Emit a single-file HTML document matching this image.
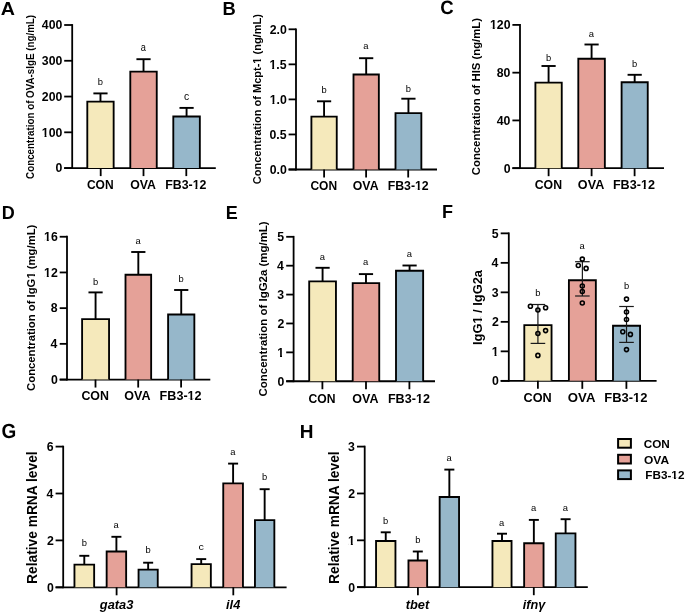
<!DOCTYPE html>
<html><head><meta charset="utf-8"><style>
html,body{margin:0;padding:0;background:#fff;}
svg{display:block;filter:blur(0.3px);}
text{font-family:"Liberation Sans", sans-serif;fill:#000;}
</style></head><body>
<svg width="685" height="613" viewBox="0 0 685 613">
<rect width="685" height="613" fill="#fff"/>
<text x="0.75" y="15.40" font-size="18" font-weight="bold" textLength="14.19" lengthAdjust="spacingAndGlyphs">A</text>
<line x1="72.20" y1="24.10" x2="72.20" y2="169.00" stroke="#000" stroke-width="1.8" stroke-linecap="butt"/>
<line x1="64.20" y1="168.10" x2="215.80" y2="168.10" stroke="#000" stroke-width="1.8" stroke-linecap="butt"/>
<line x1="64.20" y1="168.10" x2="72.20" y2="168.10" stroke="#000" stroke-width="1.8" stroke-linecap="butt"/>
<text x="55.55" y="172.40" font-size="12.3" font-weight="bold" textLength="6.84" lengthAdjust="spacingAndGlyphs">0</text>
<line x1="64.20" y1="132.32" x2="72.20" y2="132.32" stroke="#000" stroke-width="1.8" stroke-linecap="butt"/>
<text x="41.80" y="136.62" font-size="12.3" font-weight="bold" textLength="20.52" lengthAdjust="spacingAndGlyphs">100</text>
<rect x="42.07" y="134.91" width="2.45" height="2.41" fill="#fff"/>
<rect x="46.51" y="134.91" width="2.29" height="2.41" fill="#fff"/>
<line x1="64.20" y1="96.55" x2="72.20" y2="96.55" stroke="#000" stroke-width="1.8" stroke-linecap="butt"/>
<text x="41.80" y="100.85" font-size="12.3" font-weight="bold" textLength="20.52" lengthAdjust="spacingAndGlyphs">200</text>
<line x1="64.20" y1="60.77" x2="72.20" y2="60.77" stroke="#000" stroke-width="1.8" stroke-linecap="butt"/>
<text x="41.80" y="65.07" font-size="12.3" font-weight="bold" textLength="20.52" lengthAdjust="spacingAndGlyphs">300</text>
<line x1="64.20" y1="25.00" x2="72.20" y2="25.00" stroke="#000" stroke-width="1.8" stroke-linecap="butt"/>
<text x="41.80" y="29.30" font-size="12.3" font-weight="bold" textLength="20.52" lengthAdjust="spacingAndGlyphs">400</text>
<text transform="translate(33.70,178.88) rotate(-90)" font-size="10.2" font-weight="bold" textLength="163.98" lengthAdjust="spacingAndGlyphs">Concentration of OVA-sIgE (ng/mL)</text>
<path d="M87.30,168.10V101.65H113.65V168.10" fill="#F5E9BB" stroke="#000" stroke-width="1.85"/>
<line x1="100.47" y1="93.40" x2="100.47" y2="101.65" stroke="#000" stroke-width="1.9" stroke-linecap="butt"/>
<line x1="93.38" y1="93.40" x2="107.57" y2="93.40" stroke="#000" stroke-width="1.9" stroke-linecap="butt"/>
<text x="97.85" y="85.00" font-size="9.4" font-weight="normal" textLength="5.23" lengthAdjust="spacingAndGlyphs">b</text>
<path d="M130.30,168.10V71.65H156.75V168.10" fill="#E5A198" stroke="#000" stroke-width="1.85"/>
<line x1="143.52" y1="59.20" x2="143.52" y2="71.65" stroke="#000" stroke-width="1.9" stroke-linecap="butt"/>
<line x1="136.42" y1="59.20" x2="150.62" y2="59.20" stroke="#000" stroke-width="1.9" stroke-linecap="butt"/>
<text x="140.69" y="50.90" font-size="10.6" font-weight="normal" textLength="5.14" lengthAdjust="spacingAndGlyphs">a</text>
<path d="M173.30,168.10V116.45H199.85V168.10" fill="#96B7CA" stroke="#000" stroke-width="1.85"/>
<line x1="186.57" y1="107.90" x2="186.57" y2="116.45" stroke="#000" stroke-width="1.9" stroke-linecap="butt"/>
<line x1="179.47" y1="107.90" x2="193.67" y2="107.90" stroke="#000" stroke-width="1.9" stroke-linecap="butt"/>
<text x="183.89" y="100.20" font-size="10.6" font-weight="normal" textLength="5.18" lengthAdjust="spacingAndGlyphs">c</text>
<line x1="100.70" y1="168.10" x2="100.70" y2="176.10" stroke="#000" stroke-width="1.8" stroke-linecap="butt"/>
<text x="86.91" y="188.60" font-size="12.3" font-weight="bold" textLength="26.70" lengthAdjust="spacingAndGlyphs">CON</text>
<line x1="143.50" y1="168.10" x2="143.50" y2="176.10" stroke="#000" stroke-width="1.8" stroke-linecap="butt"/>
<text x="130.15" y="188.60" font-size="12.3" font-weight="bold" textLength="25.73" lengthAdjust="spacingAndGlyphs">OVA</text>
<line x1="186.30" y1="168.10" x2="186.30" y2="176.10" stroke="#000" stroke-width="1.8" stroke-linecap="butt"/>
<text x="165.15" y="188.60" font-size="12.3" font-weight="bold" textLength="41.26" lengthAdjust="spacingAndGlyphs">FB3-12</text>
<rect x="192.91" y="186.89" width="2.46" height="2.41" fill="#fff"/>
<rect x="197.37" y="186.89" width="2.31" height="2.41" fill="#fff"/>
<text x="222.63" y="15.40" font-size="18" font-weight="bold" textLength="13.24" lengthAdjust="spacingAndGlyphs">B</text>
<line x1="296.00" y1="28.40" x2="296.00" y2="170.40" stroke="#000" stroke-width="1.8" stroke-linecap="butt"/>
<line x1="288.60" y1="169.50" x2="437.00" y2="169.50" stroke="#000" stroke-width="1.8" stroke-linecap="butt"/>
<line x1="288.60" y1="169.50" x2="296.00" y2="169.50" stroke="#000" stroke-width="1.8" stroke-linecap="butt"/>
<text x="269.70" y="173.80" font-size="12.3" font-weight="bold" textLength="17.10" lengthAdjust="spacingAndGlyphs">0.0</text>
<line x1="288.60" y1="134.45" x2="296.00" y2="134.45" stroke="#000" stroke-width="1.8" stroke-linecap="butt"/>
<text x="269.45" y="138.75" font-size="12.3" font-weight="bold" textLength="17.10" lengthAdjust="spacingAndGlyphs">0.5</text>
<line x1="288.60" y1="99.40" x2="296.00" y2="99.40" stroke="#000" stroke-width="1.8" stroke-linecap="butt"/>
<text x="269.70" y="103.70" font-size="12.3" font-weight="bold" textLength="17.10" lengthAdjust="spacingAndGlyphs">1.0</text>
<rect x="269.97" y="101.99" width="2.45" height="2.41" fill="#fff"/>
<rect x="274.41" y="101.99" width="2.29" height="2.41" fill="#fff"/>
<line x1="288.60" y1="64.35" x2="296.00" y2="64.35" stroke="#000" stroke-width="1.8" stroke-linecap="butt"/>
<text x="269.45" y="68.65" font-size="12.3" font-weight="bold" textLength="17.10" lengthAdjust="spacingAndGlyphs">1.5</text>
<rect x="269.72" y="66.94" width="2.45" height="2.41" fill="#fff"/>
<rect x="274.16" y="66.94" width="2.29" height="2.41" fill="#fff"/>
<line x1="288.60" y1="29.30" x2="296.00" y2="29.30" stroke="#000" stroke-width="1.8" stroke-linecap="butt"/>
<text x="269.70" y="33.60" font-size="12.3" font-weight="bold" textLength="17.10" lengthAdjust="spacingAndGlyphs">2.0</text>
<text transform="translate(260.60,184.15) rotate(-90)" font-size="10" font-weight="bold" textLength="170.02" lengthAdjust="spacingAndGlyphs">Concentration of Mcpt-1 (ng/mL)</text>
<g transform="translate(260.60,184.15) rotate(-90)"><rect x="120.66" y="-1.47" width="2.23" height="2.17" fill="#fff"/><rect x="124.70" y="-1.47" width="2.09" height="2.17" fill="#fff"/></g>
<path d="M311.40,169.50V116.55H336.75V169.50" fill="#F5E9BB" stroke="#000" stroke-width="1.85"/>
<line x1="324.08" y1="101.30" x2="324.08" y2="116.55" stroke="#000" stroke-width="1.9" stroke-linecap="butt"/>
<line x1="316.98" y1="101.30" x2="331.18" y2="101.30" stroke="#000" stroke-width="1.9" stroke-linecap="butt"/>
<text x="321.45" y="92.80" font-size="9.4" font-weight="normal" textLength="5.23" lengthAdjust="spacingAndGlyphs">b</text>
<path d="M353.50,169.50V74.45H378.85V169.50" fill="#E5A198" stroke="#000" stroke-width="1.85"/>
<line x1="366.18" y1="58.20" x2="366.18" y2="74.45" stroke="#000" stroke-width="1.9" stroke-linecap="butt"/>
<line x1="359.07" y1="58.20" x2="373.28" y2="58.20" stroke="#000" stroke-width="1.9" stroke-linecap="butt"/>
<text x="363.30" y="49.20" font-size="9.8" font-weight="normal" textLength="5.23" lengthAdjust="spacingAndGlyphs">a</text>
<path d="M395.50,169.50V113.05H421.35V169.50" fill="#96B7CA" stroke="#000" stroke-width="1.85"/>
<line x1="408.43" y1="98.70" x2="408.43" y2="113.05" stroke="#000" stroke-width="1.9" stroke-linecap="butt"/>
<line x1="401.32" y1="98.70" x2="415.53" y2="98.70" stroke="#000" stroke-width="1.9" stroke-linecap="butt"/>
<text x="405.80" y="91.70" font-size="9.4" font-weight="normal" textLength="5.23" lengthAdjust="spacingAndGlyphs">b</text>
<line x1="324.10" y1="169.50" x2="324.10" y2="177.50" stroke="#000" stroke-width="1.8" stroke-linecap="butt"/>
<text x="310.41" y="190.10" font-size="12.3" font-weight="bold" textLength="26.70" lengthAdjust="spacingAndGlyphs">CON</text>
<line x1="366.10" y1="169.50" x2="366.10" y2="177.50" stroke="#000" stroke-width="1.8" stroke-linecap="butt"/>
<text x="352.80" y="190.10" font-size="12.3" font-weight="bold" textLength="25.73" lengthAdjust="spacingAndGlyphs">OVA</text>
<line x1="408.20" y1="169.50" x2="408.20" y2="177.50" stroke="#000" stroke-width="1.8" stroke-linecap="butt"/>
<text x="387.65" y="190.10" font-size="12.3" font-weight="bold" textLength="41.06" lengthAdjust="spacingAndGlyphs">FB3-12</text>
<rect x="415.27" y="188.39" width="2.45" height="2.41" fill="#fff"/>
<rect x="419.72" y="188.39" width="2.30" height="2.41" fill="#fff"/>
<text style="text-rendering:geometricPrecision" x="440.27" y="14.40" font-size="19.2" font-weight="bold" textLength="13.42" lengthAdjust="spacingAndGlyphs">C</text>
<line x1="520.00" y1="24.00" x2="520.00" y2="169.10" stroke="#000" stroke-width="1.8" stroke-linecap="butt"/>
<line x1="512.40" y1="168.20" x2="664.00" y2="168.20" stroke="#000" stroke-width="1.8" stroke-linecap="butt"/>
<line x1="512.40" y1="168.20" x2="520.00" y2="168.20" stroke="#000" stroke-width="1.8" stroke-linecap="butt"/>
<text x="503.75" y="172.50" font-size="12.3" font-weight="bold" textLength="6.84" lengthAdjust="spacingAndGlyphs">0</text>
<line x1="512.40" y1="120.43" x2="520.00" y2="120.43" stroke="#000" stroke-width="1.8" stroke-linecap="butt"/>
<text x="496.75" y="124.73" font-size="12.3" font-weight="bold" textLength="13.68" lengthAdjust="spacingAndGlyphs">40</text>
<line x1="512.40" y1="72.67" x2="520.00" y2="72.67" stroke="#000" stroke-width="1.8" stroke-linecap="butt"/>
<text x="496.75" y="76.97" font-size="12.3" font-weight="bold" textLength="13.68" lengthAdjust="spacingAndGlyphs">80</text>
<line x1="512.40" y1="24.90" x2="520.00" y2="24.90" stroke="#000" stroke-width="1.8" stroke-linecap="butt"/>
<text x="490.00" y="29.20" font-size="12.3" font-weight="bold" textLength="20.52" lengthAdjust="spacingAndGlyphs">120</text>
<rect x="490.27" y="27.49" width="2.45" height="2.41" fill="#fff"/>
<rect x="494.71" y="27.49" width="2.29" height="2.41" fill="#fff"/>
<text transform="translate(480.40,175.17) rotate(-90)" font-size="10.0" font-weight="bold" textLength="157.19" lengthAdjust="spacingAndGlyphs">Concentration of HIS (ng/mL)</text>
<path d="M535.40,168.20V82.65H561.75V168.20" fill="#F5E9BB" stroke="#000" stroke-width="1.85"/>
<line x1="548.58" y1="66.00" x2="548.58" y2="82.65" stroke="#000" stroke-width="1.9" stroke-linecap="butt"/>
<line x1="541.48" y1="66.00" x2="555.68" y2="66.00" stroke="#000" stroke-width="1.9" stroke-linecap="butt"/>
<text x="545.95" y="60.90" font-size="9.4" font-weight="normal" textLength="5.23" lengthAdjust="spacingAndGlyphs">b</text>
<path d="M578.30,168.20V58.75H604.85V168.20" fill="#E5A198" stroke="#000" stroke-width="1.85"/>
<line x1="591.58" y1="44.50" x2="591.58" y2="58.75" stroke="#000" stroke-width="1.9" stroke-linecap="butt"/>
<line x1="584.48" y1="44.50" x2="598.68" y2="44.50" stroke="#000" stroke-width="1.9" stroke-linecap="butt"/>
<text x="588.70" y="37.00" font-size="9.8" font-weight="normal" textLength="5.23" lengthAdjust="spacingAndGlyphs">a</text>
<path d="M621.60,168.20V82.25H647.75V168.20" fill="#96B7CA" stroke="#000" stroke-width="1.85"/>
<line x1="634.67" y1="74.80" x2="634.67" y2="82.25" stroke="#000" stroke-width="1.9" stroke-linecap="butt"/>
<line x1="627.57" y1="74.80" x2="641.77" y2="74.80" stroke="#000" stroke-width="1.9" stroke-linecap="butt"/>
<text x="632.05" y="66.80" font-size="9.4" font-weight="normal" textLength="5.23" lengthAdjust="spacingAndGlyphs">b</text>
<line x1="548.60" y1="168.20" x2="548.60" y2="176.20" stroke="#000" stroke-width="1.8" stroke-linecap="butt"/>
<text x="534.70" y="188.70" font-size="12.3" font-weight="bold" textLength="27.33" lengthAdjust="spacingAndGlyphs">CON</text>
<line x1="591.60" y1="168.20" x2="591.60" y2="176.20" stroke="#000" stroke-width="1.8" stroke-linecap="butt"/>
<text x="577.89" y="188.70" font-size="12.3" font-weight="bold" textLength="26.35" lengthAdjust="spacingAndGlyphs">OVA</text>
<line x1="634.60" y1="168.20" x2="634.60" y2="176.20" stroke="#000" stroke-width="1.8" stroke-linecap="butt"/>
<text x="612.93" y="188.70" font-size="12.3" font-weight="bold" textLength="41.98" lengthAdjust="spacingAndGlyphs">FB3-12</text>
<rect x="641.18" y="186.99" width="2.50" height="2.41" fill="#fff"/>
<rect x="645.71" y="186.99" width="2.34" height="2.41" fill="#fff"/>
<text x="1.75" y="219.10" font-size="18" font-weight="bold" textLength="13.00" lengthAdjust="spacingAndGlyphs">D</text>
<line x1="67.00" y1="235.85" x2="67.00" y2="380.45" stroke="#000" stroke-width="1.8" stroke-linecap="butt"/>
<line x1="59.70" y1="379.55" x2="210.30" y2="379.55" stroke="#000" stroke-width="1.8" stroke-linecap="butt"/>
<line x1="59.70" y1="379.55" x2="67.00" y2="379.55" stroke="#000" stroke-width="1.8" stroke-linecap="butt"/>
<text x="51.05" y="383.85" font-size="12.3" font-weight="bold" textLength="6.84" lengthAdjust="spacingAndGlyphs">0</text>
<line x1="59.70" y1="343.85" x2="67.00" y2="343.85" stroke="#000" stroke-width="1.8" stroke-linecap="butt"/>
<text x="50.55" y="348.15" font-size="12.3" font-weight="bold" textLength="6.84" lengthAdjust="spacingAndGlyphs">4</text>
<line x1="59.70" y1="308.15" x2="67.00" y2="308.15" stroke="#000" stroke-width="1.8" stroke-linecap="butt"/>
<text x="50.80" y="312.45" font-size="12.3" font-weight="bold" textLength="6.84" lengthAdjust="spacingAndGlyphs">8</text>
<line x1="59.70" y1="272.45" x2="67.00" y2="272.45" stroke="#000" stroke-width="1.8" stroke-linecap="butt"/>
<text x="44.05" y="276.75" font-size="12.3" font-weight="bold" textLength="13.68" lengthAdjust="spacingAndGlyphs">12</text>
<rect x="44.32" y="275.04" width="2.45" height="2.41" fill="#fff"/>
<rect x="48.76" y="275.04" width="2.29" height="2.41" fill="#fff"/>
<line x1="59.70" y1="236.75" x2="67.00" y2="236.75" stroke="#000" stroke-width="1.8" stroke-linecap="butt"/>
<text x="44.05" y="241.05" font-size="12.3" font-weight="bold" textLength="13.68" lengthAdjust="spacingAndGlyphs">16</text>
<rect x="44.32" y="239.34" width="2.45" height="2.41" fill="#fff"/>
<rect x="48.76" y="239.34" width="2.29" height="2.41" fill="#fff"/>
<text transform="translate(34.90,390.93) rotate(-90)" font-size="10.6" font-weight="bold" textLength="166.28" lengthAdjust="spacingAndGlyphs">Concentration of IgG1 (mg/mL)</text>
<g transform="translate(34.90,390.93) rotate(-90)"><rect x="112.50" y="-1.53" width="2.28" height="2.23" fill="#fff"/><rect x="116.64" y="-1.53" width="2.14" height="2.23" fill="#fff"/></g>
<path d="M82.10,379.55V319.15H109.05V379.55" fill="#F5E9BB" stroke="#000" stroke-width="1.85"/>
<line x1="95.57" y1="292.40" x2="95.57" y2="319.15" stroke="#000" stroke-width="1.9" stroke-linecap="butt"/>
<line x1="88.47" y1="292.40" x2="102.67" y2="292.40" stroke="#000" stroke-width="1.9" stroke-linecap="butt"/>
<text x="92.95" y="284.80" font-size="9.4" font-weight="normal" textLength="5.23" lengthAdjust="spacingAndGlyphs">b</text>
<path d="M125.50,379.55V274.75H151.15V379.55" fill="#E5A198" stroke="#000" stroke-width="1.85"/>
<line x1="138.32" y1="252.00" x2="138.32" y2="274.75" stroke="#000" stroke-width="1.9" stroke-linecap="butt"/>
<line x1="131.22" y1="252.00" x2="145.42" y2="252.00" stroke="#000" stroke-width="1.9" stroke-linecap="butt"/>
<text x="135.44" y="243.80" font-size="9.8" font-weight="normal" textLength="5.23" lengthAdjust="spacingAndGlyphs">a</text>
<path d="M168.10,379.55V314.45H194.35V379.55" fill="#96B7CA" stroke="#000" stroke-width="1.85"/>
<line x1="181.23" y1="290.00" x2="181.23" y2="314.45" stroke="#000" stroke-width="1.9" stroke-linecap="butt"/>
<line x1="174.13" y1="290.00" x2="188.33" y2="290.00" stroke="#000" stroke-width="1.9" stroke-linecap="butt"/>
<text x="178.60" y="282.40" font-size="9.4" font-weight="normal" textLength="5.23" lengthAdjust="spacingAndGlyphs">b</text>
<line x1="95.50" y1="379.55" x2="95.50" y2="387.55" stroke="#000" stroke-width="1.8" stroke-linecap="butt"/>
<text x="81.40" y="400.40" font-size="12.3" font-weight="bold" textLength="27.54" lengthAdjust="spacingAndGlyphs">CON</text>
<line x1="138.20" y1="379.55" x2="138.20" y2="387.55" stroke="#000" stroke-width="1.8" stroke-linecap="butt"/>
<text x="124.39" y="400.40" font-size="12.3" font-weight="bold" textLength="26.15" lengthAdjust="spacingAndGlyphs">OVA</text>
<line x1="181.10" y1="379.55" x2="181.10" y2="387.55" stroke="#000" stroke-width="1.8" stroke-linecap="butt"/>
<text x="159.63" y="400.40" font-size="12.3" font-weight="bold" textLength="41.98" lengthAdjust="spacingAndGlyphs">FB3-12</text>
<rect x="187.88" y="398.69" width="2.50" height="2.41" fill="#fff"/>
<rect x="192.41" y="398.69" width="2.34" height="2.41" fill="#fff"/>
<text x="225.75" y="219.10" font-size="18" font-weight="bold" textLength="12.01" lengthAdjust="spacingAndGlyphs">E</text>
<line x1="293.60" y1="235.90" x2="293.60" y2="382.15" stroke="#000" stroke-width="1.8" stroke-linecap="butt"/>
<line x1="286.20" y1="381.25" x2="435.00" y2="381.25" stroke="#000" stroke-width="1.8" stroke-linecap="butt"/>
<line x1="286.20" y1="381.25" x2="293.60" y2="381.25" stroke="#000" stroke-width="1.8" stroke-linecap="butt"/>
<text x="277.55" y="385.55" font-size="12.3" font-weight="bold" textLength="6.84" lengthAdjust="spacingAndGlyphs">0</text>
<line x1="286.20" y1="352.36" x2="293.60" y2="352.36" stroke="#000" stroke-width="1.8" stroke-linecap="butt"/>
<text x="277.30" y="356.66" font-size="12.3" font-weight="bold" textLength="6.84" lengthAdjust="spacingAndGlyphs">1</text>
<rect x="277.57" y="354.95" width="2.45" height="2.41" fill="#fff"/>
<rect x="282.01" y="354.95" width="2.29" height="2.41" fill="#fff"/>
<line x1="286.20" y1="323.47" x2="293.60" y2="323.47" stroke="#000" stroke-width="1.8" stroke-linecap="butt"/>
<text x="277.55" y="327.77" font-size="12.3" font-weight="bold" textLength="6.84" lengthAdjust="spacingAndGlyphs">2</text>
<line x1="286.20" y1="294.58" x2="293.60" y2="294.58" stroke="#000" stroke-width="1.8" stroke-linecap="butt"/>
<text x="277.30" y="298.88" font-size="12.3" font-weight="bold" textLength="6.84" lengthAdjust="spacingAndGlyphs">3</text>
<line x1="286.20" y1="265.69" x2="293.60" y2="265.69" stroke="#000" stroke-width="1.8" stroke-linecap="butt"/>
<text x="277.05" y="269.99" font-size="12.3" font-weight="bold" textLength="6.84" lengthAdjust="spacingAndGlyphs">4</text>
<line x1="286.20" y1="236.80" x2="293.60" y2="236.80" stroke="#000" stroke-width="1.8" stroke-linecap="butt"/>
<text x="277.30" y="241.10" font-size="12.3" font-weight="bold" textLength="6.84" lengthAdjust="spacingAndGlyphs">5</text>
<text transform="translate(267.40,396.43) rotate(-90)" font-size="10.8" font-weight="bold" textLength="175.11" lengthAdjust="spacingAndGlyphs">Concentration of IgG2a (mg/mL)</text>
<path d="M309.20,381.25V281.35H335.95V381.25" fill="#F5E9BB" stroke="#000" stroke-width="1.85"/>
<line x1="322.58" y1="267.80" x2="322.58" y2="281.35" stroke="#000" stroke-width="1.9" stroke-linecap="butt"/>
<line x1="315.48" y1="267.80" x2="329.68" y2="267.80" stroke="#000" stroke-width="1.9" stroke-linecap="butt"/>
<text x="319.70" y="259.80" font-size="9.8" font-weight="normal" textLength="5.23" lengthAdjust="spacingAndGlyphs">a</text>
<path d="M352.70,381.25V283.05H379.25V381.25" fill="#E5A198" stroke="#000" stroke-width="1.85"/>
<line x1="365.98" y1="274.10" x2="365.98" y2="283.05" stroke="#000" stroke-width="1.9" stroke-linecap="butt"/>
<line x1="358.88" y1="274.10" x2="373.08" y2="274.10" stroke="#000" stroke-width="1.9" stroke-linecap="butt"/>
<text x="363.10" y="265.30" font-size="9.8" font-weight="normal" textLength="5.23" lengthAdjust="spacingAndGlyphs">a</text>
<path d="M396.00,381.25V270.75H423.15V381.25" fill="#96B7CA" stroke="#000" stroke-width="1.85"/>
<line x1="409.58" y1="265.50" x2="409.58" y2="270.75" stroke="#000" stroke-width="1.9" stroke-linecap="butt"/>
<line x1="402.48" y1="265.50" x2="416.68" y2="265.50" stroke="#000" stroke-width="1.9" stroke-linecap="butt"/>
<text x="406.70" y="257.20" font-size="9.8" font-weight="normal" textLength="5.23" lengthAdjust="spacingAndGlyphs">a</text>
<line x1="322.40" y1="381.25" x2="322.40" y2="389.25" stroke="#000" stroke-width="1.8" stroke-linecap="butt"/>
<text x="308.41" y="402.70" font-size="12.3" font-weight="bold" textLength="27.01" lengthAdjust="spacingAndGlyphs">CON</text>
<line x1="366.00" y1="381.25" x2="366.00" y2="389.25" stroke="#000" stroke-width="1.8" stroke-linecap="butt"/>
<text x="352.29" y="402.70" font-size="12.3" font-weight="bold" textLength="26.15" lengthAdjust="spacingAndGlyphs">OVA</text>
<line x1="409.40" y1="381.25" x2="409.40" y2="389.25" stroke="#000" stroke-width="1.8" stroke-linecap="butt"/>
<text x="387.93" y="402.70" font-size="12.3" font-weight="bold" textLength="41.98" lengthAdjust="spacingAndGlyphs">FB3-12</text>
<rect x="416.18" y="400.99" width="2.50" height="2.41" fill="#fff"/>
<rect x="420.71" y="400.99" width="2.34" height="2.41" fill="#fff"/>
<text x="441.95" y="217.80" font-size="18" font-weight="bold" textLength="11.00" lengthAdjust="spacingAndGlyphs">F</text>
<line x1="508.80" y1="232.45" x2="508.80" y2="381.75" stroke="#000" stroke-width="1.8" stroke-linecap="butt"/>
<line x1="500.70" y1="380.85" x2="656.60" y2="380.85" stroke="#000" stroke-width="1.8" stroke-linecap="butt"/>
<line x1="500.70" y1="380.85" x2="508.80" y2="380.85" stroke="#000" stroke-width="1.8" stroke-linecap="butt"/>
<text x="492.05" y="385.15" font-size="12.3" font-weight="bold" textLength="6.84" lengthAdjust="spacingAndGlyphs">0</text>
<line x1="500.70" y1="351.35" x2="508.80" y2="351.35" stroke="#000" stroke-width="1.8" stroke-linecap="butt"/>
<text x="491.80" y="355.65" font-size="12.3" font-weight="bold" textLength="6.84" lengthAdjust="spacingAndGlyphs">1</text>
<rect x="492.07" y="353.94" width="2.45" height="2.41" fill="#fff"/>
<rect x="496.51" y="353.94" width="2.29" height="2.41" fill="#fff"/>
<line x1="500.70" y1="321.85" x2="508.80" y2="321.85" stroke="#000" stroke-width="1.8" stroke-linecap="butt"/>
<text x="492.05" y="326.15" font-size="12.3" font-weight="bold" textLength="6.84" lengthAdjust="spacingAndGlyphs">2</text>
<line x1="500.70" y1="292.35" x2="508.80" y2="292.35" stroke="#000" stroke-width="1.8" stroke-linecap="butt"/>
<text x="491.80" y="296.65" font-size="12.3" font-weight="bold" textLength="6.84" lengthAdjust="spacingAndGlyphs">3</text>
<line x1="500.70" y1="262.85" x2="508.80" y2="262.85" stroke="#000" stroke-width="1.8" stroke-linecap="butt"/>
<text x="491.55" y="267.15" font-size="12.3" font-weight="bold" textLength="6.84" lengthAdjust="spacingAndGlyphs">4</text>
<line x1="500.70" y1="233.35" x2="508.80" y2="233.35" stroke="#000" stroke-width="1.8" stroke-linecap="butt"/>
<text x="491.80" y="237.65" font-size="12.3" font-weight="bold" textLength="6.84" lengthAdjust="spacingAndGlyphs">5</text>
<text transform="translate(482.40,344.98) rotate(-90)" font-size="12.4" font-weight="bold" textLength="74.92" lengthAdjust="spacingAndGlyphs">IgG1 / IgG2a</text>
<g transform="translate(482.40,344.98) rotate(-90)"><rect x="21.70" y="-1.72" width="2.54" height="2.42" fill="#fff"/><rect x="26.30" y="-1.72" width="2.38" height="2.42" fill="#fff"/></g>
<path d="M524.30,380.85V325.05H551.55V380.85" fill="#F5E9BB" stroke="#000" stroke-width="1.85"/>
<line x1="537.92" y1="304.50" x2="537.92" y2="343.40" stroke="#1a1a1a" stroke-width="1.2" stroke-linecap="butt"/>
<line x1="530.62" y1="304.50" x2="545.22" y2="304.50" stroke="#1a1a1a" stroke-width="1.2" stroke-linecap="butt"/>
<line x1="530.62" y1="343.40" x2="545.22" y2="343.40" stroke="#1a1a1a" stroke-width="1.2" stroke-linecap="butt"/>
<circle cx="530.40" cy="306.30" r="2.0" fill="none" stroke="#000" stroke-width="1.6"/>
<circle cx="545.60" cy="307.70" r="2.0" fill="none" stroke="#000" stroke-width="1.6"/>
<circle cx="537.90" cy="310.00" r="2.0" fill="none" stroke="#000" stroke-width="1.6"/>
<circle cx="537.90" cy="333.50" r="2.0" fill="none" stroke="#000" stroke-width="1.6"/>
<circle cx="545.60" cy="330.60" r="2.0" fill="none" stroke="#000" stroke-width="1.6"/>
<circle cx="537.90" cy="355.40" r="2.0" fill="none" stroke="#000" stroke-width="1.6"/>
<text x="535.30" y="296.10" font-size="9.4" font-weight="normal" textLength="5.23" lengthAdjust="spacingAndGlyphs">b</text>
<path d="M568.90,380.85V280.25H595.85V380.85" fill="#E5A198" stroke="#000" stroke-width="1.85"/>
<line x1="582.38" y1="261.70" x2="582.38" y2="296.00" stroke="#1a1a1a" stroke-width="1.2" stroke-linecap="butt"/>
<line x1="575.08" y1="261.70" x2="589.67" y2="261.70" stroke="#1a1a1a" stroke-width="1.2" stroke-linecap="butt"/>
<line x1="575.08" y1="296.00" x2="589.67" y2="296.00" stroke="#1a1a1a" stroke-width="1.2" stroke-linecap="butt"/>
<circle cx="582.30" cy="259.10" r="2.0" fill="none" stroke="#000" stroke-width="1.6"/>
<circle cx="578.30" cy="265.50" r="2.0" fill="none" stroke="#000" stroke-width="1.6"/>
<circle cx="586.10" cy="268.40" r="2.0" fill="none" stroke="#000" stroke-width="1.6"/>
<circle cx="582.30" cy="286.00" r="2.0" fill="none" stroke="#000" stroke-width="1.6"/>
<circle cx="582.30" cy="291.50" r="2.0" fill="none" stroke="#000" stroke-width="1.6"/>
<circle cx="582.30" cy="303.00" r="2.0" fill="none" stroke="#000" stroke-width="1.6"/>
<text x="579.50" y="249.20" font-size="9.8" font-weight="normal" textLength="5.23" lengthAdjust="spacingAndGlyphs">a</text>
<path d="M613.00,380.85V325.75H640.05V380.85" fill="#96B7CA" stroke="#000" stroke-width="1.85"/>
<line x1="626.52" y1="306.50" x2="626.52" y2="342.40" stroke="#1a1a1a" stroke-width="1.2" stroke-linecap="butt"/>
<line x1="619.23" y1="306.50" x2="633.82" y2="306.50" stroke="#1a1a1a" stroke-width="1.2" stroke-linecap="butt"/>
<line x1="619.23" y1="342.40" x2="633.82" y2="342.40" stroke="#1a1a1a" stroke-width="1.2" stroke-linecap="butt"/>
<circle cx="626.50" cy="299.10" r="2.0" fill="none" stroke="#000" stroke-width="1.6"/>
<circle cx="626.50" cy="312.00" r="2.0" fill="none" stroke="#000" stroke-width="1.6"/>
<circle cx="626.50" cy="319.50" r="2.0" fill="none" stroke="#000" stroke-width="1.6"/>
<circle cx="622.80" cy="331.80" r="2.0" fill="none" stroke="#000" stroke-width="1.6"/>
<circle cx="630.40" cy="334.40" r="2.0" fill="none" stroke="#000" stroke-width="1.6"/>
<circle cx="626.50" cy="349.60" r="2.0" fill="none" stroke="#000" stroke-width="1.6"/>
<text x="623.90" y="288.80" font-size="9.4" font-weight="normal" textLength="5.23" lengthAdjust="spacingAndGlyphs">b</text>
<line x1="537.90" y1="380.85" x2="537.90" y2="388.85" stroke="#000" stroke-width="1.8" stroke-linecap="butt"/>
<text x="523.59" y="402.20" font-size="12.5" font-weight="bold" textLength="28.20" lengthAdjust="spacingAndGlyphs">CON</text>
<line x1="582.30" y1="380.85" x2="582.30" y2="388.85" stroke="#000" stroke-width="1.8" stroke-linecap="butt"/>
<text x="567.87" y="402.20" font-size="12.5" font-weight="bold" textLength="27.56" lengthAdjust="spacingAndGlyphs">OVA</text>
<line x1="626.40" y1="380.85" x2="626.40" y2="388.85" stroke="#000" stroke-width="1.8" stroke-linecap="butt"/>
<text x="604.22" y="402.20" font-size="12.5" font-weight="bold" textLength="43.23" lengthAdjust="spacingAndGlyphs">FB3-12</text>
<rect x="633.33" y="400.47" width="2.56" height="2.43" fill="#fff"/>
<rect x="637.98" y="400.47" width="2.40" height="2.43" fill="#fff"/>
<text style="text-rendering:geometricPrecision" x="1.50" y="437.60" font-size="20.4" font-weight="bold" textLength="14.77" lengthAdjust="spacingAndGlyphs">G</text>
<line x1="63.20" y1="445.70" x2="63.20" y2="588.20" stroke="#000" stroke-width="1.8" stroke-linecap="butt"/>
<line x1="55.60" y1="587.30" x2="286.60" y2="587.30" stroke="#000" stroke-width="1.8" stroke-linecap="butt"/>
<line x1="55.60" y1="587.30" x2="63.20" y2="587.30" stroke="#000" stroke-width="1.8" stroke-linecap="butt"/>
<text x="46.95" y="591.60" font-size="12.3" font-weight="bold" textLength="6.84" lengthAdjust="spacingAndGlyphs">0</text>
<line x1="55.60" y1="540.40" x2="63.20" y2="540.40" stroke="#000" stroke-width="1.8" stroke-linecap="butt"/>
<text x="46.95" y="544.70" font-size="12.3" font-weight="bold" textLength="6.84" lengthAdjust="spacingAndGlyphs">2</text>
<line x1="55.60" y1="493.50" x2="63.20" y2="493.50" stroke="#000" stroke-width="1.8" stroke-linecap="butt"/>
<text x="46.45" y="497.80" font-size="12.3" font-weight="bold" textLength="6.84" lengthAdjust="spacingAndGlyphs">4</text>
<line x1="55.60" y1="446.60" x2="63.20" y2="446.60" stroke="#000" stroke-width="1.8" stroke-linecap="butt"/>
<text x="46.70" y="450.90" font-size="12.3" font-weight="bold" textLength="6.84" lengthAdjust="spacingAndGlyphs">6</text>
<text transform="translate(37.30,583.90) rotate(-90)" font-size="13.8" font-weight="bold" textLength="132.51" lengthAdjust="spacingAndGlyphs">Relative mRNA level</text>
<path d="M74.45,587.30V564.55H94.15V587.30" fill="#F5E9BB" stroke="#000" stroke-width="1.85"/>
<line x1="84.30" y1="555.80" x2="84.30" y2="564.55" stroke="#000" stroke-width="1.9" stroke-linecap="butt"/>
<line x1="79.30" y1="555.80" x2="89.30" y2="555.80" stroke="#000" stroke-width="1.9" stroke-linecap="butt"/>
<text x="81.67" y="546.30" font-size="9.4" font-weight="normal" textLength="5.23" lengthAdjust="spacingAndGlyphs">b</text>
<path d="M106.65,587.30V551.45H126.15V587.30" fill="#E5A198" stroke="#000" stroke-width="1.85"/>
<line x1="116.40" y1="536.80" x2="116.40" y2="551.45" stroke="#000" stroke-width="1.9" stroke-linecap="butt"/>
<line x1="111.40" y1="536.80" x2="121.40" y2="536.80" stroke="#000" stroke-width="1.9" stroke-linecap="butt"/>
<text x="113.52" y="528.30" font-size="9.8" font-weight="normal" textLength="5.23" lengthAdjust="spacingAndGlyphs">a</text>
<path d="M138.55,587.30V569.65H157.75V587.30" fill="#96B7CA" stroke="#000" stroke-width="1.85"/>
<line x1="148.15" y1="562.70" x2="148.15" y2="569.65" stroke="#000" stroke-width="1.9" stroke-linecap="butt"/>
<line x1="143.15" y1="562.70" x2="153.15" y2="562.70" stroke="#000" stroke-width="1.9" stroke-linecap="butt"/>
<text x="145.53" y="553.20" font-size="9.4" font-weight="normal" textLength="5.23" lengthAdjust="spacingAndGlyphs">b</text>
<path d="M191.55,587.30V564.15H210.85V587.30" fill="#F5E9BB" stroke="#000" stroke-width="1.85"/>
<line x1="201.20" y1="559.10" x2="201.20" y2="564.15" stroke="#000" stroke-width="1.9" stroke-linecap="butt"/>
<line x1="196.20" y1="559.10" x2="206.20" y2="559.10" stroke="#000" stroke-width="1.9" stroke-linecap="butt"/>
<text x="198.45" y="550.40" font-size="9.8" font-weight="normal" textLength="5.39" lengthAdjust="spacingAndGlyphs">c</text>
<path d="M223.25,587.30V483.35H242.95V587.30" fill="#E5A198" stroke="#000" stroke-width="1.85"/>
<line x1="233.10" y1="463.60" x2="233.10" y2="483.35" stroke="#000" stroke-width="1.9" stroke-linecap="butt"/>
<line x1="228.10" y1="463.60" x2="238.10" y2="463.60" stroke="#000" stroke-width="1.9" stroke-linecap="butt"/>
<text x="230.22" y="454.90" font-size="9.8" font-weight="normal" textLength="5.23" lengthAdjust="spacingAndGlyphs">a</text>
<path d="M254.95,587.30V520.05H274.35V587.30" fill="#96B7CA" stroke="#000" stroke-width="1.85"/>
<line x1="264.65" y1="489.20" x2="264.65" y2="520.05" stroke="#000" stroke-width="1.9" stroke-linecap="butt"/>
<line x1="259.65" y1="489.20" x2="269.65" y2="489.20" stroke="#000" stroke-width="1.9" stroke-linecap="butt"/>
<text x="262.03" y="480.10" font-size="9.4" font-weight="normal" textLength="5.23" lengthAdjust="spacingAndGlyphs">b</text>
<line x1="116.60" y1="587.30" x2="116.60" y2="595.30" stroke="#000" stroke-width="1.8" stroke-linecap="butt"/>
<line x1="233.30" y1="587.30" x2="233.30" y2="595.30" stroke="#000" stroke-width="1.8" stroke-linecap="butt"/>
<text x="99.80" y="609.20" font-size="13" font-weight="bold" font-style="italic" textLength="33.61" lengthAdjust="spacingAndGlyphs">gata3</text>
<text x="226.07" y="609.00" font-size="12.8" font-weight="bold" font-style="italic" textLength="14.23" lengthAdjust="spacingAndGlyphs">il4</text>
<text x="299.78" y="438.00" font-size="18" font-weight="bold" textLength="13.74" lengthAdjust="spacingAndGlyphs">H</text>
<line x1="364.70" y1="445.70" x2="364.70" y2="588.10" stroke="#000" stroke-width="1.8" stroke-linecap="butt"/>
<line x1="357.00" y1="587.20" x2="587.80" y2="587.20" stroke="#000" stroke-width="1.8" stroke-linecap="butt"/>
<line x1="357.00" y1="587.20" x2="364.70" y2="587.20" stroke="#000" stroke-width="1.8" stroke-linecap="butt"/>
<text x="348.35" y="591.50" font-size="12.3" font-weight="bold" textLength="6.84" lengthAdjust="spacingAndGlyphs">0</text>
<line x1="357.00" y1="540.33" x2="364.70" y2="540.33" stroke="#000" stroke-width="1.8" stroke-linecap="butt"/>
<text x="348.10" y="544.63" font-size="12.3" font-weight="bold" textLength="6.84" lengthAdjust="spacingAndGlyphs">1</text>
<rect x="348.37" y="542.92" width="2.45" height="2.41" fill="#fff"/>
<rect x="352.81" y="542.92" width="2.29" height="2.41" fill="#fff"/>
<line x1="357.00" y1="493.47" x2="364.70" y2="493.47" stroke="#000" stroke-width="1.8" stroke-linecap="butt"/>
<text x="348.35" y="497.77" font-size="12.3" font-weight="bold" textLength="6.84" lengthAdjust="spacingAndGlyphs">2</text>
<line x1="357.00" y1="446.60" x2="364.70" y2="446.60" stroke="#000" stroke-width="1.8" stroke-linecap="butt"/>
<text x="348.10" y="450.90" font-size="12.3" font-weight="bold" textLength="6.84" lengthAdjust="spacingAndGlyphs">3</text>
<text transform="translate(338.70,583.90) rotate(-90)" font-size="13.8" font-weight="bold" textLength="132.51" lengthAdjust="spacingAndGlyphs">Relative mRNA level</text>
<path d="M376.05,587.20V540.95H395.45V587.20" fill="#F5E9BB" stroke="#000" stroke-width="1.85"/>
<line x1="385.75" y1="532.30" x2="385.75" y2="540.95" stroke="#000" stroke-width="1.9" stroke-linecap="butt"/>
<line x1="380.75" y1="532.30" x2="390.75" y2="532.30" stroke="#000" stroke-width="1.9" stroke-linecap="butt"/>
<text x="383.12" y="524.40" font-size="9.4" font-weight="normal" textLength="5.23" lengthAdjust="spacingAndGlyphs">b</text>
<path d="M408.45,587.20V560.45H427.15V587.20" fill="#E5A198" stroke="#000" stroke-width="1.85"/>
<line x1="417.80" y1="551.50" x2="417.80" y2="560.45" stroke="#000" stroke-width="1.9" stroke-linecap="butt"/>
<line x1="412.80" y1="551.50" x2="422.80" y2="551.50" stroke="#000" stroke-width="1.9" stroke-linecap="butt"/>
<text x="415.18" y="543.40" font-size="9.4" font-weight="normal" textLength="5.23" lengthAdjust="spacingAndGlyphs">b</text>
<path d="M439.65,587.20V496.95H459.05V587.20" fill="#96B7CA" stroke="#000" stroke-width="1.85"/>
<line x1="449.35" y1="469.60" x2="449.35" y2="496.95" stroke="#000" stroke-width="1.9" stroke-linecap="butt"/>
<line x1="444.35" y1="469.60" x2="454.35" y2="469.60" stroke="#000" stroke-width="1.9" stroke-linecap="butt"/>
<text x="446.47" y="460.60" font-size="9.8" font-weight="normal" textLength="5.23" lengthAdjust="spacingAndGlyphs">a</text>
<path d="M492.45,587.20V540.95H511.55V587.20" fill="#F5E9BB" stroke="#000" stroke-width="1.85"/>
<line x1="502.00" y1="533.70" x2="502.00" y2="540.95" stroke="#000" stroke-width="1.9" stroke-linecap="butt"/>
<line x1="497.00" y1="533.70" x2="507.00" y2="533.70" stroke="#000" stroke-width="1.9" stroke-linecap="butt"/>
<text x="499.12" y="525.60" font-size="9.8" font-weight="normal" textLength="5.23" lengthAdjust="spacingAndGlyphs">a</text>
<path d="M524.15,587.20V543.25H543.55V587.20" fill="#E5A198" stroke="#000" stroke-width="1.85"/>
<line x1="533.85" y1="519.90" x2="533.85" y2="543.25" stroke="#000" stroke-width="1.9" stroke-linecap="butt"/>
<line x1="528.85" y1="519.90" x2="538.85" y2="519.90" stroke="#000" stroke-width="1.9" stroke-linecap="butt"/>
<text x="530.97" y="510.90" font-size="9.8" font-weight="normal" textLength="5.23" lengthAdjust="spacingAndGlyphs">a</text>
<path d="M555.75,587.20V533.35H575.45V587.20" fill="#96B7CA" stroke="#000" stroke-width="1.85"/>
<line x1="565.60" y1="519.20" x2="565.60" y2="533.35" stroke="#000" stroke-width="1.9" stroke-linecap="butt"/>
<line x1="560.60" y1="519.20" x2="570.60" y2="519.20" stroke="#000" stroke-width="1.9" stroke-linecap="butt"/>
<text x="562.72" y="510.90" font-size="9.8" font-weight="normal" textLength="5.23" lengthAdjust="spacingAndGlyphs">a</text>
<line x1="417.90" y1="587.20" x2="417.90" y2="595.20" stroke="#000" stroke-width="1.8" stroke-linecap="butt"/>
<line x1="533.80" y1="587.20" x2="533.80" y2="595.20" stroke="#000" stroke-width="1.8" stroke-linecap="butt"/>
<text x="405.77" y="609.00" font-size="12.8" font-weight="bold" font-style="italic" textLength="23.46" lengthAdjust="spacingAndGlyphs">tbet</text>
<text x="522.65" y="609.30" font-size="12.8" font-weight="bold" font-style="italic" textLength="22.56" lengthAdjust="spacingAndGlyphs">ifnγ</text>
<rect x="618.1" y="439.00" width="12.8" height="8.7" fill="#F5E9BB" stroke="#000" stroke-width="2"/>
<rect x="618.1" y="454.80" width="12.8" height="8.7" fill="#E5A198" stroke="#000" stroke-width="2"/>
<rect x="618.1" y="470.40" width="12.8" height="8.7" fill="#96B7CA" stroke="#000" stroke-width="2"/>
<text x="643.69" y="448.20" font-size="11.6" font-weight="bold" textLength="26.09" lengthAdjust="spacingAndGlyphs">CON</text>
<text x="643.98" y="463.60" font-size="11.6" font-weight="bold" textLength="25.10" lengthAdjust="spacingAndGlyphs">OVA</text>
<text x="645.34" y="479.30" font-size="11.6" font-weight="bold" textLength="39.09" lengthAdjust="spacingAndGlyphs">FB3-12</text>
<rect x="671.61" y="477.67" width="2.35" height="2.33" fill="#fff"/>
<rect x="675.88" y="477.67" width="2.20" height="2.33" fill="#fff"/>
</svg>
</body></html>
